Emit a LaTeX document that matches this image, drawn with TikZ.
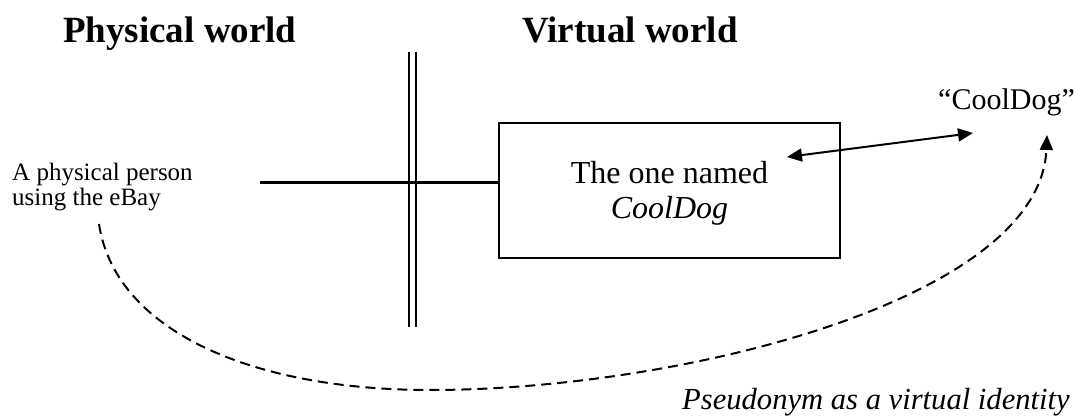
\documentclass[tikz,border=0pt]{standalone}
\usepackage{fontspec}
\setmainfont{Liberation Serif}
\usetikzlibrary{arrows.meta}

\tikzset{
  heading/.style={font=\fontsize{37}{40}\selectfont\bfseries, inner sep=0pt, anchor=base west},
  plain/.style={inner sep=0pt},
  framebox/.style={draw, line width=1.5pt, minimum width=341pt, minimum height=135pt, inner sep=0pt},
  wall/.style={line width=2.5pt},
  link/.style={line width=3pt},
  duo/.style={line width=2pt, {Triangle[length=15pt,width=13pt]}-{Triangle[length=15pt,width=13pt]}},
  alias/.style={line width=2pt, dash pattern=on 10pt off 6pt, -{Triangle[length=15pt,width=13pt]}}
}

\begin{document}
\begin{tikzpicture}[x=1pt, y=-1pt]
  \useasboundingbox (0,0) rectangle (1074,419);

  % column headings
  \node[heading] (phys) at (63,43) {Physical world};
  \node[heading] (virt) at (522,43) {Virtual world};

  % the border between the two worlds
  \draw[wall] (409,52) -- (409,327);
  \draw[wall] (416,52) -- (416,327);

  % the person on the physical side
  \node[plain, anchor=north west, align=left, font=\fontsize{25}{25}\selectfont] (person) at (12,163)
    {A physical person\\using the eBay};

  % the virtual entity
  \node[framebox] (box) at (669.5,190.5) {};
  \node[plain, align=center, font=\fontsize{32}{35}\selectfont] (boxtext) at (669.5,193)
    {The one named\\\textit{CoolDog}};

  % the pseudonym itself
  \node[plain, anchor=base west, font=\fontsize{30}{34}\selectfont] (nick) at (938,110) {“CoolDog”};

  % caption
  \node[plain, anchor=base west, font=\fontsize{30.6}{34}\selectfont\itshape] (caption) at (682,410)
    {Pseudonym as a virtual identity};

  % line across the border into the virtual box
  \coordinate (linkstart) at (260,183);
  \draw[link] (linkstart) -- (linkstart -| box.west);

  % correspondence between entity and name
  \coordinate (boxpt) at (787,157);
  \coordinate (nickpt) at (973,133);
  \draw[duo] (boxpt) -- (nickpt);

  % the person acts under the pseudonym
  \coordinate (curvestart) at (99,224);
  \coordinate (curveend) at (1047,135);
  \draw[alias] (curvestart) .. controls (115,330) and (250,390) .. (430,390)
    .. controls (680,390) and (1040,300) .. (curveend);
\end{tikzpicture}
\end{document}
